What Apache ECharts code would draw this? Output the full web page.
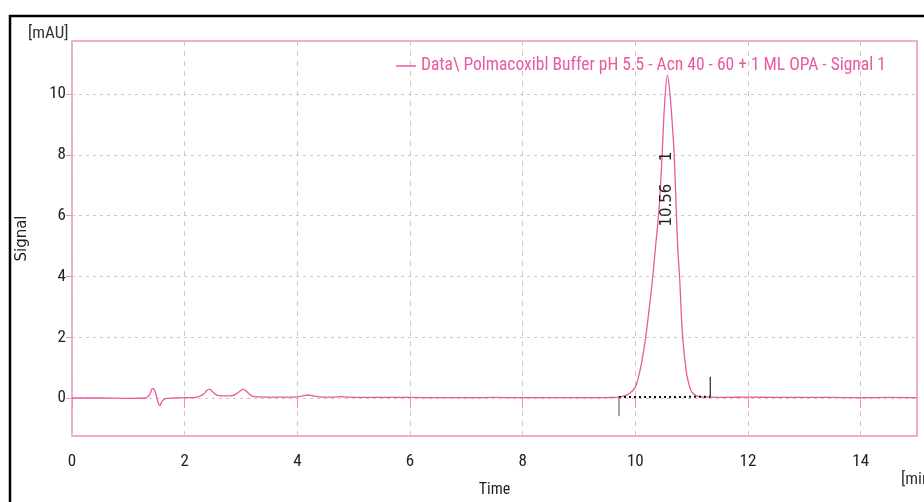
<!DOCTYPE html>
<html>
<head>
<meta charset="utf-8">
<script src="https://cdn.jsdelivr.net/npm/echarts@6/dist/echarts.min.js"></script>
<style>
html,body{margin:0;padding:0;background:#fff;}
#chart{width:924px;height:502px;}
</style>
</head>
<body>
<div id="chart"></div>
<script>
// ---- data ----
const times = [0, 0.5, 1.0, 1.3, 1.38, 1.43, 1.48, 1.52, 1.56, 1.6, 1.66, 1.8, 2.0, 2.2, 2.33, 2.39, 2.44, 2.5, 2.58, 2.7, 2.85, 2.95, 3.04, 3.12, 3.2, 3.4, 3.7, 4.0, 4.12, 4.2, 4.3, 4.45, 4.65, 4.77, 4.9, 5.2, 5.6, 6.0, 6.5, 7.0, 7.5, 8.0, 8.5, 9.0, 9.4, 9.6, 9.7, 9.8, 9.9, 10.0, 10.06, 10.12, 10.18, 10.25, 10.31, 10.36, 10.42, 10.47, 10.52, 10.57, 10.62, 10.66, 10.69, 10.73, 10.755, 10.785, 10.84, 10.91, 10.96, 11.0, 11.08, 11.17, 11.3, 11.6, 12.0, 12.5, 13.0, 13.5, 14.0, 14.5, 15.0];
const signal = [0.0, 0.0, -0.01, 0.0, 0.12, 0.32, 0.2, -0.1, -0.25, -0.1, -0.02, 0.0, 0.01, 0.02, 0.12, 0.24, 0.29, 0.2, 0.09, 0.07, 0.08, 0.18, 0.29, 0.18, 0.06, 0.03, 0.03, 0.04, 0.08, 0.1, 0.06, 0.03, 0.03, 0.05, 0.03, 0.02, 0.02, 0.02, 0.01, 0.01, 0.02, 0.01, 0.01, 0.01, 0.01, 0.02, 0.03, 0.07, 0.16, 0.36, 0.72, 1.25, 1.95, 3.0, 4.0, 5.0, 6.2, 7.8, 9.7, 10.63, 9.9, 8.9, 8.0, 6.0, 4.85, 4.0, 2.0, 0.8, 0.4, 0.2, 0.08, 0.04, 0.03, 0.02, 0.03, 0.02, 0.02, 0.02, 0.01, 0.02, 0.01];
const xTicks = [0, 2, 4, 6, 8, 10, 12, 14];
const yTicks = [0, 2, 4, 6, 8, 10];
const seriesName = 'Data\\ Polmacoxibl Buffer pH 5.5 - Acn 40 - 60 + 1 ML OPA - Signal 1';
const peakTime = 10.56;
const peakNumber = '1';
const peakLabelY = 6.35;
const peakNumberY = 7.95;
const baseStart = [9.71, 0.03];
const baseEnd = [11.33, 0.04];
const baseStartTick = -0.6;
const baseEndTick = 0.7;

const traceData = times.map((t, i) => [t, signal[i]]);

const pink = '#e95a9f';
const framePink = '#ef8fc2';
const narrow = "'Roboto Condensed','DejaVu Sans Condensed',sans-serif";

const chart = echarts.init(document.getElementById('chart'), null, {renderer: 'canvas'});
chart.setOption({
  animation: false,
  backgroundColor: '#fff',
  grid: {left: 72, top: 41, right: 7, bottom: 66, show: true, borderColor: framePink, borderWidth: 1.5, containLabel: false, outerBoundsMode: 'none'},
  legend: {
    show: true, type: 'plain', orient: 'horizontal',
    left: 396, top: 57, right: 'auto', bottom: 'auto',
    itemWidth: 20, itemHeight: 1.5, itemGap: 6, padding: 0,
    data: [{name: seriesName, icon: 'rect'}],
    textStyle: {color: pink, fontSize: 17.5, fontFamily: narrow},
    itemStyle: {color: pink}
  },
  xAxis: {
    type: 'value', min: 0, max: 15,
    axisLine: {show: false},
    axisTick: {show: true, length: 10, lineStyle: {color: framePink}, customValues: xTicks},
    axisLabel: {color: '#222', fontSize: 17, fontFamily: narrow, margin: 17, customValues: xTicks},
    splitLine: {show: true, lineStyle: {color: '#c9c9c9', type: [5, 5], width: 1}},
    name: 'Time', nameLocation: 'middle', nameGap: 46,
    nameTextStyle: {color: '#222', fontSize: 16, fontFamily: narrow}
  },
  yAxis: {
    type: 'value', min: -1.25, max: 11.75,
    axisLine: {show: false},
    axisTick: {show: true, length: 6, lineStyle: {color: framePink}, customValues: yTicks},
    axisLabel: {color: '#222', fontSize: 17, fontFamily: narrow, margin: 6, customValues: yTicks},
    splitLine: {show: true, lineStyle: {color: '#c9c9c9', type: [3, 4], width: 1}},
    name: 'Signal', nameLocation: 'middle', nameGap: 42, nameRotate: 90,
    nameTextStyle: {color: '#222', fontSize: 15, fontFamily: "'DejaVu Sans',sans-serif"}
  },
  series: [
    {
      name: seriesName, type: 'line', data: traceData,
      smooth: 0.35, showSymbol: false, symbol: 'none',
      lineStyle: {color: pink, width: 1.3},
      itemStyle: {color: pink},
      z: 3,
      markPoint: {
        symbol: 'circle', symbolSize: 0,
        label: {show: true, rotate: 90, color: '#222', fontSize: 15, fontFamily: "'DejaVu Sans',sans-serif", position: 'inside'},
        data: [
          {coord: [peakTime, peakLabelY], value: peakTime.toFixed(2), label: {formatter: peakTime.toFixed(2)}},
          {coord: [peakTime, peakNumberY], value: peakNumber, label: {formatter: peakNumber}}
        ]
      }
    },
    {
      name: 'baseline', type: 'line', data: [baseStart, baseEnd],
      showSymbol: false, symbol: 'none', silent: true,
      lineStyle: {color: '#111', width: 2, type: [2, 3]}, z: 4
    },
    {
      name: 'startTick', type: 'line', data: [baseStart, [baseStart[0], baseStartTick]],
      showSymbol: false, symbol: 'none', silent: true,
      lineStyle: {color: '#777', width: 1.3}, z: 4
    },
    {
      name: 'endTick', type: 'line', data: [baseEnd, [baseEnd[0], baseEndTick]],
      showSymbol: false, symbol: 'none', silent: true,
      lineStyle: {color: '#111', width: 1.1}, z: 4
    }
  ],
  graphic: [
    {type: 'rect', shape: {x: 10, y: 16, width: 940, height: 520}, style: {fill: null, stroke: '#000', lineWidth: 2.5}, silent: true},
    {type: 'text', left: 28, top: 25, style: {text: '[mAU]', fill: '#333', fontSize: 17, fontFamily: narrow}},
    {type: 'text', left: 901, top: 471, style: {text: '[min]', fill: '#333', fontSize: 17, fontFamily: narrow}}
  ]
});
</script>
</body>
</html>
